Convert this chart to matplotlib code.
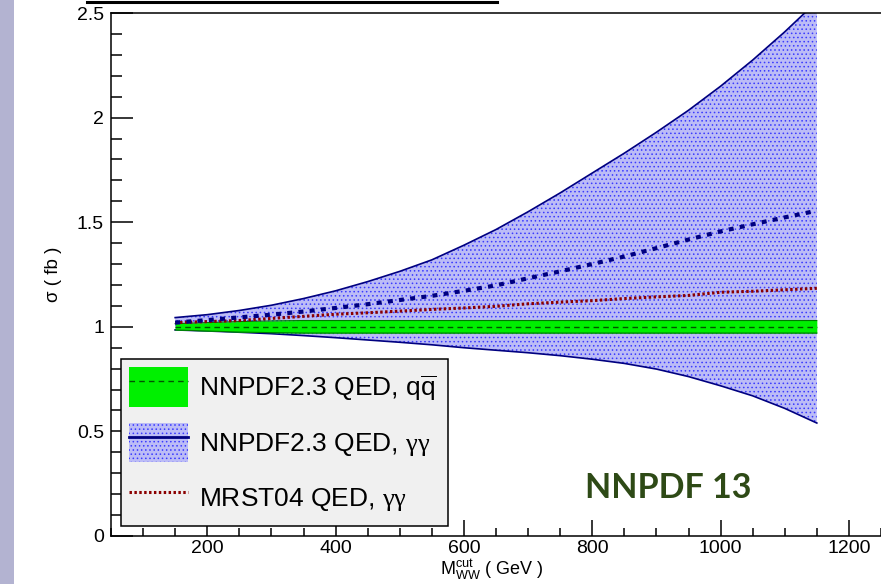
import numpy as np
import matplotlib
matplotlib.use("Agg")
import matplotlib.pyplot as plt
from matplotlib.patches import Patch, Rectangle
from matplotlib.lines import Line2D
from matplotlib.ticker import MultipleLocator, FuncFormatter

plt.rcParams['font.family'] = ['Liberation Sans', 'DejaVu Sans']
plt.rcParams['mathtext.fontset'] = 'custom'
plt.rcParams['mathtext.rm'] = 'Liberation Sans'
plt.rcParams['mathtext.it'] = 'Liberation Serif'
plt.rcParams['hatch.linewidth'] = 0.6

# cross sections vs M_WW cut
m_cut = [150, 200, 250, 300, 350, 400, 450, 500, 550, 600, 650,
         700, 750, 800, 850, 900, 950, 1000, 1050, 1100, 1150]
gg_central = [1.02, 1.032, 1.045, 1.058, 1.073, 1.09, 1.108, 1.128, 1.148, 1.172, 1.198,
              1.232, 1.265, 1.30, 1.336, 1.376, 1.417, 1.456, 1.49, 1.523, 1.555]
gg_upper = [1.044, 1.058, 1.078, 1.103, 1.135, 1.172, 1.216, 1.265, 1.32, 1.39, 1.465,
            1.55, 1.64, 1.735, 1.83, 1.93, 2.035, 2.15, 2.275, 2.41, 2.555]
gg_lower = [0.985, 0.98, 0.974, 0.967, 0.958, 0.948, 0.937, 0.926, 0.914, 0.90, 0.888,
            0.876, 0.862, 0.845, 0.825, 0.798, 0.762, 0.718, 0.67, 0.61, 0.54]
mrst = [1.02, 1.025, 1.03, 1.04, 1.05, 1.06, 1.067, 1.075, 1.083, 1.09, 1.098,
        1.11, 1.118, 1.125, 1.135, 1.143, 1.15, 1.165, 1.17, 1.177, 1.184]
qq_central = [1.0] * 21
qq_upper = [1.015, 1.02, 1.025, 1.028, 1.03, 1.03, 1.03, 1.03, 1.03, 1.03, 1.03,
            1.03, 1.03, 1.03, 1.03, 1.03, 1.03, 1.03, 1.03, 1.03, 1.03]
qq_lower = [0.985, 0.98, 0.975, 0.972, 0.97, 0.97, 0.97, 0.97, 0.97, 0.97, 0.97,
            0.97, 0.97, 0.97, 0.97, 0.97, 0.97, 0.97, 0.97, 0.97, 0.97]

labels = [r'NNPDF2.3 QED, q$\overline{\mathrm{q}}$',
          r'NNPDF2.3 QED, $\gamma\gamma$',
          r'MRST04 QED, $\gamma\gamma$']

band_face = '#bcbcf6'
band_hatch_col = '#3a3aff'
navy = '#000080'

fig = plt.figure(figsize=(8.81, 5.84), dpi=100)
# lavender strip on the left edge
fig.patches.append(Rectangle((0, 0), 14 / 881, 1, transform=fig.transFigure,
                             facecolor='#b3b3d1', edgecolor='none', zorder=0))
# cut-off text remnant at the top
fig.add_artist(Line2D([87 / 881, 497 / 881], [1 - 2 / 584, 1 - 2 / 584],
                      color='black', lw=2.2, transform=fig.transFigure))

ax = fig.add_axes([111 / 881, 48 / 584, 770 / 881, 523 / 584])

ax.fill_between(m_cut, gg_lower, gg_upper, facecolor=band_face,
                edgecolor=band_hatch_col, hatch='....', lw=0, zorder=1)
ax.plot(m_cut, gg_upper, color=navy, lw=1.2, zorder=2)
ax.plot(m_cut, gg_lower, color=navy, lw=1.2, zorder=2)

ax.fill_between(m_cut, qq_lower, qq_upper, color='#00f000', lw=0, zorder=3)
ax.plot(m_cut, qq_upper, color='#007700', lw=0.8, zorder=3)
ax.plot(m_cut, qq_lower, color='#007700', lw=0.8, zorder=3)
ax.plot(m_cut, qq_central, color='#005500', lw=1.0, ls=(0, (4, 3)), zorder=4)

ax.plot(m_cut, mrst, color='#8b0000', lw=2.2, ls=(0, (0.8, 0.8)), zorder=5)
ax.plot(m_cut, gg_central, color=navy, lw=3, ls=(0, (1.2, 1.5)), zorder=6)

ax.set_xlim(50, 1250)
ax.set_ylim(0, 2.5)
ax.spines['right'].set_visible(False)
for s in ['left', 'bottom', 'top']:
    ax.spines[s].set_linewidth(1.1)

ax.xaxis.set_major_locator(MultipleLocator(200))
ax.xaxis.set_minor_locator(MultipleLocator(50))
ax.yaxis.set_major_locator(MultipleLocator(0.5))
ax.yaxis.set_minor_locator(MultipleLocator(0.1))
ax.yaxis.set_major_formatter(FuncFormatter(lambda v, p: f'{v:g}'))
ax.tick_params(axis='both', which='both', direction='in', labelsize=14, width=1.1)
ax.tick_params(axis='y', which='major', length=16, pad=5)
ax.tick_params(axis='y', which='minor', length=8)
ax.tick_params(axis='x', which='major', length=11.5, pad=3)
ax.tick_params(axis='x', which='minor', length=6)
ax.tick_params(top=False, right=False)

fig.text(54 / 881, 1 - 274 / 584, r'σ ( fb )', rotation=90, fontsize=13.5,
         ha='center', va='center')
fig.text(440 / 881, 0.003, r'$\mathregular{M_{WW}^{cut}}$ ( GeV )',
         fontsize=13, ha='left', va='bottom')

ax.text(668 / 881, 1 - 488 / 584, 'NNPDF 13', transform=fig.transFigure,
        fontsize=24.5, family='Lato', weight='bold', color='#2e4a16',
        ha='center', va='center')

h_qq = (Patch(facecolor='#00f000', edgecolor='none'),
        Line2D([], [], color='#005500', lw=1.0, ls=(0, (4, 3))))
h_gg = (Patch(facecolor=band_face, edgecolor=band_hatch_col, hatch='....', lw=0),
        Line2D([], [], color=navy, lw=2))
h_mr = Line2D([], [], color='#8b0000', lw=2.2, ls=(0, (0.8, 0.8)))
leg = fig.legend([h_qq, h_gg, h_mr], labels, loc='upper left',
                 bbox_to_anchor=(121 / 881, 55 / 584, 327 / 881, 170 / 584),
                 mode='expand', fontsize=19, frameon=True, fancybox=False,
                 framealpha=1, facecolor='#f0f0f0', edgecolor='black',
                 handlelength=2.2, handleheight=1.9, labelspacing=0.62,
                 borderpad=0.32, handletextpad=0.45, borderaxespad=0)
leg.get_frame().set_linewidth(1.1)

fig.savefig('out.png', dpi=100)
